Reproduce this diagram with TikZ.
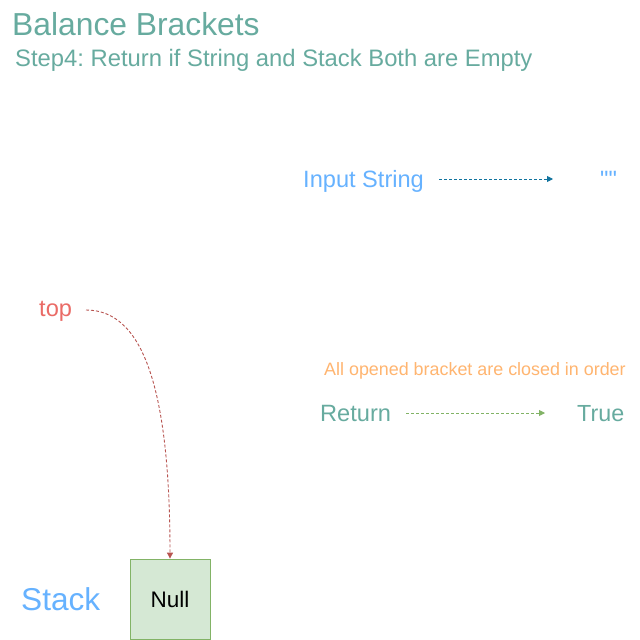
\documentclass[tikz,border=0pt]{standalone}
\usepackage{fontspec}
\setmainfont{Liberation Sans}
\newfontfamily\qf[Ligatures=TeXOff]{Liberation Sans}
\usetikzlibrary{arrows.meta}
\frenchspacing
\definecolor{teal}{HTML}{67AB9F}
\definecolor{skyb}{HTML}{66B2FF}
\definecolor{redt}{HTML}{EA6B66}
\definecolor{redl}{HTML}{B85450}
\definecolor{orng}{HTML}{FFB570}
\definecolor{grnl}{HTML}{82B366}
\definecolor{grnf}{HTML}{D5E8D4}
\definecolor{bluel}{HTML}{10739E}
\tikzset{
  txt/.style={inner sep=0pt, anchor=base west},
  dasharrow/.style={dash pattern=on 3pt off 2pt, line width=0.9pt, -{Triangle[length=6pt,width=6pt]}},
}
\begin{document}
\begin{tikzpicture}[x=1pt,y=-1pt]
\useasboundingbox[fill=white] (0,0) rectangle (640,640);
\node[txt, text=teal, font=\fontsize{31.8}{32}\selectfont] (title) at (12,35) {Balance Brackets};
\node[txt, text=teal, font=\fontsize{23.8}{24}\selectfont] (sub) at (15,66.5) {Step4: Return if String and Stack Both are Empty};
\node[txt, text=skyb, font=\fontsize{23.6}{24}\selectfont] (inp) at (303,187.5) {Input String};
\node[txt, text=skyb, font=\qf\fontsize{23.6}{24}\selectfont] (emp) at (600,187.5) {""};
\coordinate (a1s) at (439,179);
\coordinate (a1e) at (553,179);
\draw[dasharrow, color=bluel] (a1s) -- (a1e);
\node[txt, text=redt, font=\fontsize{23.6}{24}\selectfont] (top) at (39,316) {top};
\node[txt, text=orng, font=\fontsize{17.9}{18}\selectfont] (msg) at (324,375.4) {All opened bracket are closed in order};
\node[txt, text=teal, font=\fontsize{23.6}{24}\selectfont] (ret) at (320,421.6) {Return};
\node[txt, text=teal, font=\fontsize{23.3}{24}\selectfont] (tru) at (577,421.6) {True};
\coordinate (a2s) at (406,413);
\coordinate (a2e) at (545,413);
\draw[dasharrow, color=grnl] (a2s) -- (a2e);
\node[txt, text=skyb, font=\fontsize{31.6}{32}\selectfont] (stk) at (21,610.5) {Stack};
\node[draw=grnl, fill=grnf, line width=0.8pt, minimum width=80pt, minimum height=80pt, inner sep=0pt, font=\fontsize{22.5}{23}\selectfont] (null) at (170,599) {Null};
\coordinate (c1) at (86,310);
\draw[dasharrow, color=redl] (c1) .. controls (140,310) and (170,380) .. (null.north);
\end{tikzpicture}
\end{document}
